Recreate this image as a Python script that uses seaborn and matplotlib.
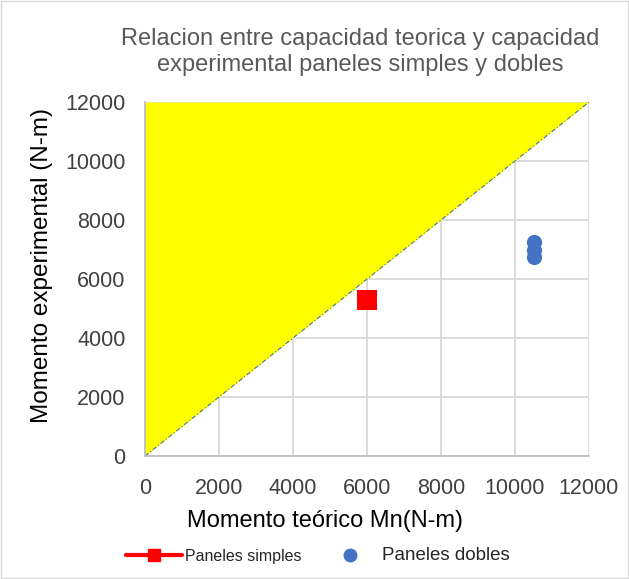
import matplotlib
matplotlib.use("Agg")
import matplotlib.pyplot as plt
import seaborn as sns
import pandas as pd
from matplotlib.lines import Line2D
from matplotlib.patches import Rectangle

# Data
simples_teorico = [6000]
simples_experimental = [5290]
dobles_teorico = [10500, 10500, 10500]
dobles_experimental = [7250, 7000, 6750]
limite = [0, 12000]
xticks = [0, 2000, 4000, 6000, 8000, 10000, 12000]
yticks = [0, 2000, 4000, 6000, 8000, 10000, 12000]

sns.set_style("white")
plt.rcParams['font.family'] = ['Liberation Sans', 'DejaVu Sans']

fig = plt.figure(figsize=(6.29, 5.79), dpi=100)
ax = fig.add_axes([145/629, 1-456/579, (589-145)/629, (456-102)/579])

# yellow region above y = x
ax.fill_between(limite, limite, [limite[1], limite[1]], color="#FFFF00", zorder=1, linewidth=0)
# dash-dot identity line
ax.plot(limite, limite, color="#4472C4", linestyle=(0, (4, 2, 1, 2)), linewidth=0.8, zorder=2)

df_s = pd.DataFrame({"x": simples_teorico, "y": simples_experimental})
df_d = pd.DataFrame({"x": dobles_teorico, "y": dobles_experimental})
sns.scatterplot(data=df_s, x="x", y="y", ax=ax, marker="s", s=210, color="#FF0000",
                edgecolor="#FF0000", linewidth=0, zorder=4)
sns.scatterplot(data=df_d, x="x", y="y", ax=ax, marker="o", s=120, color="#4472C4",
                edgecolor="#4472C4", linewidth=0, zorder=4)

ax.set_xlim(0, 12000)
ax.set_ylim(0, 12000)
ax.set_xticks(xticks)
ax.set_yticks(yticks)
ax.tick_params(axis="both", labelsize=15.5, length=0)
ax.tick_params(axis="x", pad=16)
ax.tick_params(axis="y", pad=14)
for lbl in ax.get_xticklabels() + ax.get_yticklabels():
    lbl.set_color("#404040")
ax.grid(True, color="#D9D9D9", linewidth=1.3, zorder=0)
ax.set_axisbelow(True)
for s in ["top", "right"]:
    ax.spines[s].set_visible(False)
for s in ["left", "bottom"]:
    ax.spines[s].set_color("#BFBFBF")
    ax.spines[s].set_linewidth(1.3)

ax.set_xlabel("Momento teórico Mn(N-m)", fontsize=17, color="black")
ax.set_ylabel("Momento experimental (N-m)", fontsize=17.5, color="black")
ax.xaxis.set_label_coords((325-145)/444, (456-510)/354)
ax.yaxis.set_label_coords((53-145)/444, (456-265)/354)

fig.text(360/629, 1-52/579, "Relacion entre capacidad teorica y capacidad\nexperimental paneles simples y dobles",
         ha="center", va="center", fontsize=17, color="#595959", linespacing=1.2)

handles = [
    Line2D([0], [0], color="#FF0000", linewidth=3, marker="s", markersize=8, label="Paneles simples"),
    Line2D([0], [0], color="#4472C4", linestyle="none", marker="o", markersize=9, label="Paneles dobles"),
]
leg = fig.legend(handles=handles, loc="center", bbox_to_anchor=(318/629, 1-556/579), ncol=2,
                 frameon=False, fontsize=11.5, handlelength=3.45, columnspacing=1.3, handletextpad=0.25)
leg.get_texts()[1].set_fontsize(13.5)

# figure border
fig.patches.append(Rectangle((0.002, 0.002), 0.996, 0.996, transform=fig.transFigure,
                             fill=False, edgecolor="#D9D9D9", linewidth=1))

fig.savefig("out.png", dpi=100)
